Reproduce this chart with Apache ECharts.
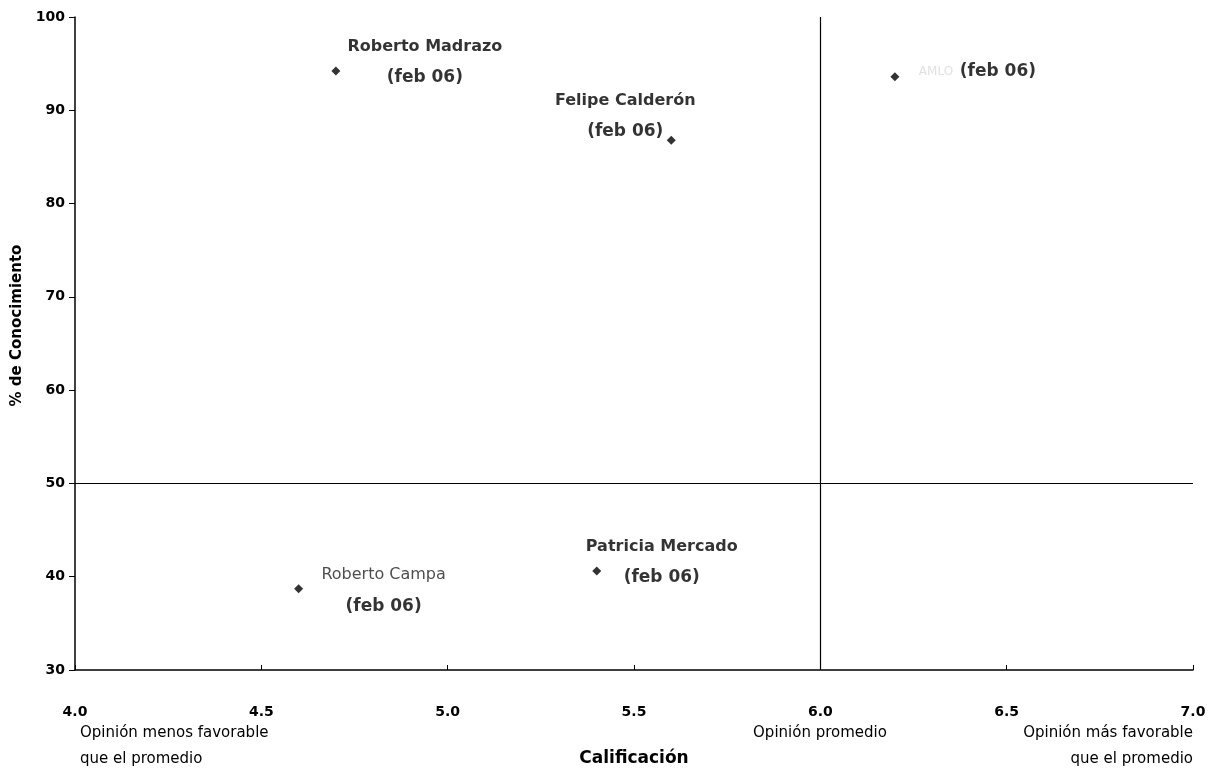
<!DOCTYPE html>
<html><head><meta charset="utf-8">
<script src="https://cdn.jsdelivr.net/npm/echarts@6/dist/echarts.min.js"></script>
<style>html,body{margin:0;padding:0;background:#fff}#c{width:1215px;height:770px}</style>
</head><body><div id="c"></div>
<script>
const candidates = ['Roberto Madrazo', 'Felipe Calderón', 'AMLO', 'Patricia Mercado', 'Roberto Campa'];
const dates = ['(feb 06)', '(feb 06)', '(feb 06)', '(feb 06)', '(feb 06)'];
const calificacion = [4.7, 5.6, 6.2, 5.4, 4.6];
const conocimiento = [94.2, 86.8, 93.6, 40.6, 38.7];
const xTicks = [4.0, 4.5, 5.0, 5.5, 6.0, 6.5, 7.0];
const yTicks = [30, 40, 50, 60, 70, 80, 90, 100];
const refX = 6.0, refY = 50;

const FONT = 'DejaVu Sans';
const labelCfg = [
  {offset: [89, -9], align: 'center', nameStyle: 'nb'},
  {offset: [-46, -24], align: 'center', nameStyle: 'nb'},
  {offset: [24, -5], align: 'left', nameStyle: 'faint', oneLine: true},
  {offset: [65, -9], align: 'center', nameStyle: 'nb'},
  {offset: [85, 2], align: 'center', nameStyle: 'nr'}
];

const data = candidates.map((n, i) => {
  const c = labelCfg[i];
  const txt = c.oneLine ? `{${c.nameStyle}|${n}}  {d|${dates[i]}}` : `{${c.nameStyle}|${n}}\n{d|${dates[i]}}`;
  return {
    value: [calificacion[i], conocimiento[i]],
    label: {show: true, position: 'inside', offset: c.offset, align: c.align, verticalAlign: 'middle',
      formatter: txt, lineHeight: 31, color: '#000',
      rich: {
        nb: {fontFamily: FONT, fontWeight: 'bold', fontSize: 16, color: '#000', lineHeight: 31, align: c.align},
        nr: {fontFamily: FONT, fontWeight: 'normal', fontSize: 16, color: '#222', lineHeight: 31, align: c.align},
        faint: {fontFamily: FONT, fontWeight: 'normal', fontSize: 12, color: '#d8d8d8', lineHeight: 31},
        d: {fontFamily: FONT, fontWeight: 'bold', fontSize: 17, color: '#000', lineHeight: 31, align: c.align}
      }}
  };
});

const chart = echarts.init(document.getElementById('c'));
chart.setOption({
  animation: false,
  backgroundColor: '#fff',
  grid: {left: 75, right: 22, top: 17, bottom: 100, outerBoundsMode: 'none', containLabel: false},
  xAxis: {
    type: 'value', min: 4.0, max: 7.0, interval: 0.5,
    name: 'Calificación', nameLocation: 'middle', nameGap: 80,
    nameTextStyle: {fontFamily: FONT, fontWeight: 'bold', fontSize: 17, color: '#000'},
    axisLine: {lineStyle: {color: '#000', width: 1.5}},
    axisTick: {show: true, length: 5, inside: true, lineStyle: {color: '#000'}},
    axisLabel: {margin: 35, fontFamily: FONT, fontWeight: 'bold', fontSize: 14, color: '#000',
      formatter: v => v.toFixed(1)},
    splitLine: {show: false}
  },
  yAxis: {
    type: 'value', min: 30, max: 100, interval: 10,
    name: '% de Conocimiento', nameLocation: 'middle', nameGap: 49,
    nameTextStyle: {fontFamily: FONT, fontWeight: 'bold', fontSize: 15, color: '#000', padding: [0, 0, 0, 36]},
    axisLine: {lineStyle: {color: '#000', width: 1.5}},
    axisTick: {show: true, length: 6, lineStyle: {color: '#000'}},
    axisLabel: {margin: 10, fontFamily: FONT, fontWeight: 'bold', fontSize: 14, color: '#000'},
    splitLine: {show: false}
  },
  graphic: [
    {type: 'text', x: 80, y: 720, style: {text: 'Opinión menos favorable\nque el promedio', fontFamily: FONT, fontSize: 15, fill: '#000', lineHeight: 26, align: 'left'}},
    {type: 'text', x: 820, y: 720, style: {text: 'Opinión promedio', fontFamily: FONT, fontSize: 15, fill: '#000', lineHeight: 26, align: 'center'}},
    {type: 'text', x: 1193, y: 720, style: {text: 'Opinión más favorable\nque el promedio', fontFamily: FONT, fontSize: 15, fill: '#000', lineHeight: 26, align: 'right'}}
  ],
  series: [{
    type: 'scatter',
    symbol: 'diamond', symbolSize: 9,
    itemStyle: {color: '#000'},
    data: data,
    markLine: {
      silent: true, symbol: 'none', label: {show: false},
      lineStyle: {color: '#000', width: 1.2, type: 'solid'},
      data: [{xAxis: refX}, {yAxis: refY}]
    }
  }]
});
</script></body></html>
